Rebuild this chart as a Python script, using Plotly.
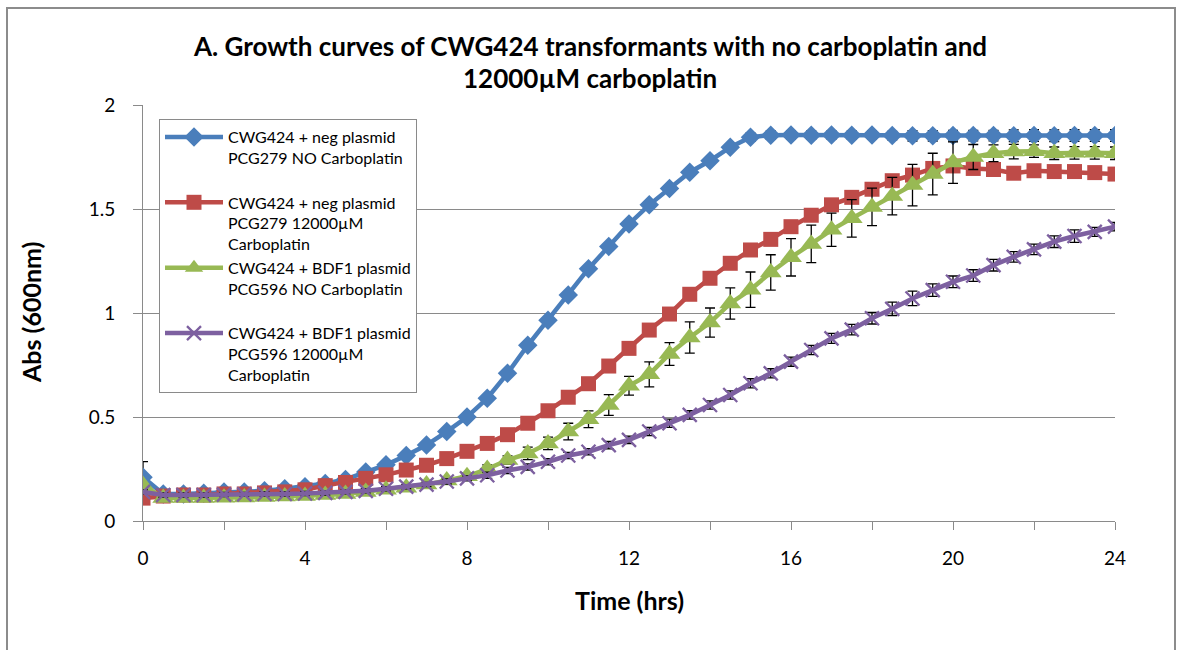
import plotly.graph_objects as go

time_hrs = [0, 0.5, 1, 1.5, 2, 2.5, 3, 3.5, 4, 4.5, 5, 5.5, 6, 6.5, 7, 7.5, 8, 8.5, 9, 9.5,
            10, 10.5, 11, 11.5, 12, 12.5, 13, 13.5, 14, 14.5, 15, 15.5, 16, 16.5, 17, 17.5,
            18, 18.5, 19, 19.5, 20, 20.5, 21, 21.5, 22, 22.5, 23, 23.5, 24]

neg_no_carbo = [0.21, 0.13, 0.13, 0.133, 0.14, 0.14, 0.145, 0.155, 0.165, 0.18, 0.20, 0.235,
                0.27, 0.315, 0.365, 0.43, 0.50, 0.59, 0.71, 0.845, 0.965, 1.087, 1.213, 1.32,
                1.428, 1.52, 1.598, 1.677, 1.732, 1.797, 1.845, 1.855, 1.856, 1.855, 1.856,
                1.855, 1.856, 1.853, 1.852, 1.852, 1.853, 1.853, 1.853, 1.852, 1.853, 1.852,
                1.853, 1.853, 1.853]
neg_no_carbo_err = [0.075, 0.01, 0.01, 0.01, 0.01, 0.01, 0.01, 0.01, 0.01, 0.01, 0.01, 0.01,
                    0.01, 0.01, 0.01, 0.01, 0.01, 0.01, 0.01, 0.01, 0.01, 0.01, 0.01, 0.01,
                    0.01, 0.01, 0.01, 0.015, 0.015, 0.015, 0.02, 0.02, 0.02, 0.02, 0.02, 0.02,
                    0.02, 0.02, 0.025, 0.025, 0.025, 0.025, 0.025, 0.028, 0.028, 0.028, 0.028,
                    0.028, 0.028]

neg_12000 = [0.11, 0.12, 0.125, 0.125, 0.13, 0.13, 0.135, 0.14, 0.15, 0.17, 0.185, 0.205,
             0.222, 0.245, 0.268, 0.30, 0.335, 0.373, 0.415, 0.47, 0.53, 0.595, 0.66, 0.745,
             0.83, 0.918, 0.995, 1.09, 1.167, 1.239, 1.303, 1.354, 1.415, 1.47, 1.52, 1.556,
             1.595, 1.636, 1.663, 1.695, 1.707, 1.695, 1.69, 1.672, 1.684, 1.68, 1.68, 1.675,
             1.668]
neg_12000_err = [0.01, 0.01, 0.01, 0.01, 0.01, 0.01, 0.01, 0.01, 0.01, 0.01, 0.01, 0.01,
                 0.01, 0.01, 0.01, 0.01, 0.01, 0.01, 0.01, 0.01, 0.01, 0.01, 0.01, 0.01,
                 0.01, 0.01, 0.01, 0.01, 0.01, 0.01, 0.01, 0.01, 0.015, 0.015, 0.015, 0.015,
                 0.015, 0.015, 0.015, 0.015, 0.015, 0.015, 0.015, 0.015, 0.015, 0.015, 0.015,
                 0.015, 0.015]

bdf1_no_carbo = [0.173, 0.11, 0.11, 0.11, 0.112, 0.113, 0.115, 0.118, 0.12, 0.125, 0.13, 0.14,
                 0.15, 0.16, 0.175, 0.195, 0.215, 0.25, 0.293, 0.325, 0.373, 0.43, 0.489, 0.558,
                 0.65, 0.705, 0.803, 0.882, 0.954, 1.046, 1.112, 1.195, 1.268, 1.332, 1.40,
                 1.455, 1.51, 1.562, 1.615, 1.668, 1.723, 1.75, 1.768, 1.776, 1.778, 1.768,
                 1.77, 1.77, 1.768]
bdf1_no_carbo_err = [0.01, 0.01, 0.01, 0.01, 0.01, 0.01, 0.01, 0.01, 0.01, 0.01, 0.01, 0.01,
                     0.01, 0.01, 0.01, 0.015, 0.015, 0.02, 0.02, 0.03, 0.03, 0.04, 0.04, 0.05,
                     0.045, 0.06, 0.055, 0.075, 0.07, 0.075, 0.085, 0.085, 0.09, 0.09, 0.08,
                     0.09, 0.09, 0.09, 0.10, 0.10, 0.10, 0.06, 0.04, 0.035, 0.03, 0.03, 0.03,
                     0.03, 0.03]

bdf1_12000 = [0.14, 0.125, 0.125, 0.125, 0.127, 0.128, 0.13, 0.13, 0.132, 0.135, 0.14, 0.145,
              0.155, 0.165, 0.175, 0.19, 0.205, 0.22, 0.243, 0.26, 0.285, 0.315, 0.333, 0.365,
              0.39, 0.43, 0.47, 0.51, 0.558, 0.606, 0.662, 0.71, 0.766, 0.822, 0.878, 0.92,
              0.975, 1.02, 1.07, 1.11, 1.15, 1.18, 1.23, 1.27, 1.306, 1.343, 1.37, 1.39, 1.415]
bdf1_12000_err = [0.01, 0.01, 0.01, 0.01, 0.01, 0.01, 0.01, 0.01, 0.01, 0.01, 0.01, 0.01,
                  0.01, 0.01, 0.01, 0.012, 0.012, 0.015, 0.015, 0.015, 0.015, 0.015, 0.015,
                  0.018, 0.018, 0.02, 0.02, 0.02, 0.02, 0.02, 0.022, 0.022, 0.022, 0.022,
                  0.024, 0.025, 0.028, 0.032, 0.035, 0.03, 0.028, 0.028, 0.028, 0.025, 0.025,
                  0.028, 0.03, 0.022, 0.02]

series_names = [
    "CWG424 + neg plasmid<br>PCG279 NO Carboplatin<br> ",
    "CWG424 + neg plasmid<br>PCG279 12000µM<br>Carboplatin",
    "CWG424 + BDF1 plasmid<br>PCG596 NO Carboplatin<br> ",
    "CWG424 + BDF1 plasmid<br>PCG596 12000µM<br>Carboplatin",
]
title_lines = ["A. Growth curves of CWG424 transformants with no carboplatin and",
               "12000µM carboplatin"]
x_title = "Time (hrs)"
y_title = "Abs (600nm)"
x_tick_vals = [0, 2, 4, 6, 8, 10, 12, 14, 16, 18, 20, 22, 24]
x_tick_text = ["0", "", "4", "", "8", "", "12", "", "16", "", "20", "", "24"]
y_tick_vals = [0, 0.5, 1, 1.5, 2]
y_tick_text = ["0", "0.5", "1", "1.5", "2"]

FONT = "Lato, 'Open Sans', sans-serif"
GRID = "#8a8a8a"

styles = [
    dict(color="#4A7EBB", symbol="diamond", size=15, lw=0),
    dict(color="#BE4B48", symbol="square", size=15, lw=0),
    dict(color="#98B954", symbol="triangle-up", size=19, lw=0),
    dict(color="#7D60A0", symbol="x-thin-open", size=14, lw=2.3),
]
ys = [neg_no_carbo, neg_12000, bdf1_no_carbo, bdf1_12000]
errs = [neg_no_carbo_err, neg_12000_err, bdf1_no_carbo_err, bdf1_12000_err]

fig = go.Figure()
for name, y, e, st in zip(series_names, ys, errs, styles):
    marker = dict(symbol=st["symbol"], size=st["size"], color=st["color"])
    if st["lw"]:
        marker["line"] = dict(color=st["color"], width=st["lw"])
    else:
        marker["line"] = dict(width=0)
    fig.add_trace(go.Scatter(
        x=time_hrs, y=y, name=name, mode="lines+markers",
        line=dict(color=st["color"], width=4.5),
        marker=marker,
        error_y=dict(type="data", array=e, visible=True, color="black",
                     thickness=1.3, width=5),
    ))

L, R, T, B = 143, 66, 105, 129
W, H = 1181, 650
pw, ph = W - L - R, H - T - B

def px_x(p):
    return (p - L) / pw

def px_y(p):
    return (H - B - p) / ph

fig.update_layout(
    width=W, height=H,
    margin=dict(l=L, r=R, t=T, b=B),
    paper_bgcolor="white", plot_bgcolor="white",
    font=dict(family=FONT, color="black"),
    title=dict(text="<b>" + title_lines[0] + "</b>",
               x=0.5, xref="container", y=1 - 47 / H, yref="container",
               xanchor="center", yanchor="middle",
               font=dict(size=26, family=FONT, color="black")),
    showlegend=True,
    legend=dict(x=px_x(159), y=px_y(119), xanchor="left", yanchor="top",
                bgcolor="white", bordercolor=GRID, borderwidth=1,
                font=dict(size=16, family=FONT, color="black"),
                valign="top", itemwidth=58),
    xaxis=dict(range=[0, 24], tickmode="array", tickvals=x_tick_vals, ticktext=x_tick_text,
               showgrid=False, zeroline=False, showline=True, linecolor=GRID, linewidth=1,
               ticks="outside", ticklen=8, tickcolor=GRID, tickwidth=1,
               tickfont=dict(size=19, family=FONT, color="black"), ticklabelstandoff=12),
    yaxis=dict(range=[0, 2], tickmode="array", tickvals=y_tick_vals, ticktext=y_tick_text,
               showgrid=True, gridcolor=GRID, gridwidth=1, zeroline=False,
               showline=True, linecolor=GRID, linewidth=1,
               ticks="outside", ticklen=9, tickcolor=GRID, tickwidth=1,
               tickfont=dict(size=19, family=FONT, color="black"), ticklabelstandoff=14),
)

fig.add_annotation(text="<b>" + title_lines[1] + "</b>", xref="paper", yref="paper",
                   x=px_x(590), y=px_y(78), showarrow=False,
                   xanchor="center", yanchor="middle",
                   font=dict(size=26, family=FONT, color="black"))
fig.add_annotation(text="<b>" + x_title + "</b>", xref="paper", yref="paper",
                   x=px_x(629), y=px_y(600), showarrow=False,
                   xanchor="center", yanchor="middle",
                   font=dict(size=25, family=FONT, color="black"))
fig.add_annotation(text="<b>" + y_title + "</b>", xref="paper", yref="paper",
                   x=px_x(31), y=px_y(313), showarrow=False, textangle=-90,
                   xanchor="center", yanchor="middle",
                   font=dict(size=25, family=FONT, color="black"))

fig.add_shape(type="rect", xref="paper", yref="paper",
              x0=px_x(7), x1=px_x(1175), y0=px_y(700), y1=px_y(8),
              line=dict(color="#8c8c8c", width=2), fillcolor="rgba(0,0,0,0)", layer="below")

fig.write_html("out.html")
